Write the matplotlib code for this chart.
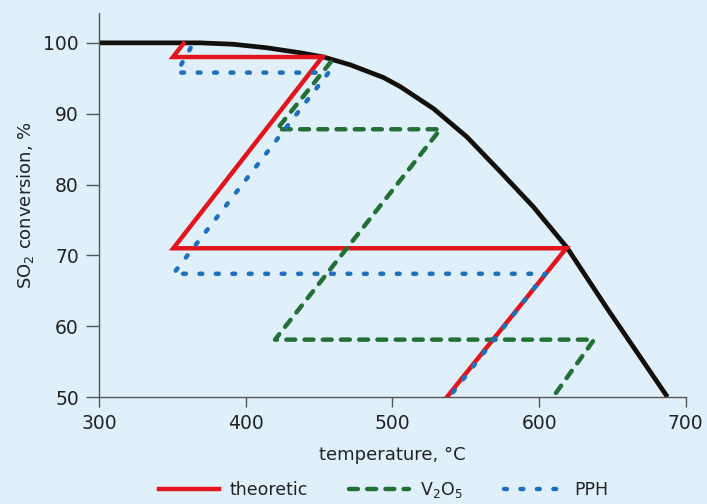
import matplotlib
matplotlib.use("Agg")
import matplotlib.pyplot as plt

# equilibrium curve (black)
eq_temp = [300, 335, 369, 391.7, 414.5, 437.2, 453.1, 471.3, 494, 505.5, 528.1, 550.9, 573.6, 596.3, 619, 646.4, 687.5]
eq_conv = [100, 100, 100, 99.8, 99.3, 98.6, 98.0, 96.9, 95.1, 93.8, 90.7, 86.7, 81.8, 76.8, 71.1, 62.5, 50.0]

# theoretic path (red)
th_temp = [357.6, 350.5, 452.2, 350.7, 618.5, 537.2]
th_conv = [99.9, 98.0, 98.0, 71.0, 71.0, 50.0]

# V2O5 path (green)
v_temp = [458.0, 421.3, 532.7, 420.0, 637.5, 609.5]
v_conv = [97.3, 87.8, 87.8, 58.1, 58.1, 50.0]

# PPH path (blue)
p_temp = [362.5, 353.0, 456.5, 350.7, 604.3, 538.8]
p_conv = [99.3, 95.8, 95.8, 67.4, 67.4, 50.0]

BG = "#dff0fb"
TXT = "#222222"
plt.rcParams["font.family"] = ["DejaVu Sans"]

fig = plt.figure(figsize=(7.07, 5.04), dpi=100, facecolor=BG)
ax = fig.add_axes([0.140, 0.2123, 0.830, 0.7617], facecolor=BG)

ax.plot(eq_temp, eq_conv, color="#12100c", linewidth=3.4, solid_capstyle="butt", zorder=2)
ax.plot(th_temp, th_conv, color="#e3141b", linewidth=3.2, solid_joinstyle="miter", label="theoretic", zorder=3)
ax.plot(v_temp, v_conv, color="#246f35", linewidth=3.2, dashes=(2.0, 2.1), dash_capstyle="round",
        label="V$_2$O$_5$", zorder=4)
ax.plot(p_temp, p_conv, color="#1f6fbd", linewidth=3.2, dashes=(0.65, 3.05), dash_capstyle="round",
        label="PPH", zorder=5)

ax.set_xlim(300, 700)
ax.set_ylim(50, 104.2)
ax.set_xticks([300, 400, 500, 600, 700])
ax.set_yticks([50, 60, 70, 80, 90, 100])

for side in ("top", "right"):
    ax.spines[side].set_visible(False)
for side in ("left", "bottom"):
    ax.spines[side].set_color("#555555")
    ax.spines[side].set_linewidth(1.0)
ax.tick_params(direction="out", width=1.0, color="#555555", labelsize=13.5, labelcolor=TXT)
ax.tick_params(axis="x", length=7.5, pad=5)
ax.tick_params(axis="y", length=9.5, pad=5)

ax.set_xlabel("temperature, °C", fontsize=13, color=TXT, labelpad=9)
ax.set_ylabel("SO$_2$ conversion, %", fontsize=13, color=TXT, labelpad=5)

leg = ax.legend(loc="center", bbox_to_anchor=(0.485, -0.242), ncol=3, frameon=False,
                fontsize=12.5, handlelength=3.45, columnspacing=2.4, handletextpad=0.6)
for t in leg.get_texts():
    t.set_color(TXT)

fig.savefig("out.png", dpi=100, facecolor=BG)
